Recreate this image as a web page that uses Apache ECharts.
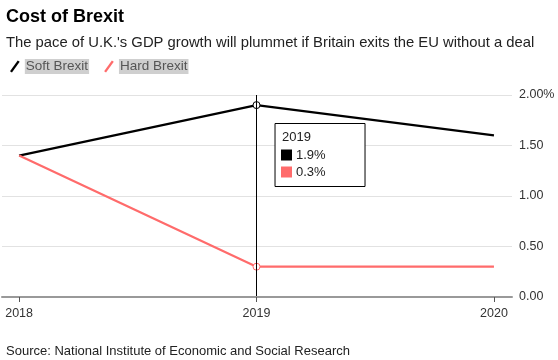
<!DOCTYPE html>
<html><head><meta charset="utf-8">
<script src="https://cdn.jsdelivr.net/npm/echarts@6/dist/echarts.min.js"></script>
<style>html,body{margin:0;padding:0;background:#fff}#c{width:558px;height:360px}</style>
</head><body><div id="c"></div>
<script>
const years = [2018, 2019, 2020];
const softBrexit = [1.4, 1.9, 1.6];
const hardBrexit = [1.4, 0.3, 0.3];
const yTicks = [0, 0.5, 1, 1.5, 2];
const highlightYear = 2019;
const FONT = '"Liberation Sans", Arial, Helvetica, sans-serif';

const chart = echarts.init(document.getElementById('c'), null, {renderer: 'canvas'});
const hi = years.indexOf(highlightYear);
function mk(arr, color) {
  return arr.map((v, i) => i === hi ?
    {value: [years[i], v], symbol: 'circle', symbolSize: 7, itemStyle: {color: '#fff', borderColor: color, borderWidth: 1}} :
    {value: [years[i], v], symbol: 'none'});
}
const slash = 'path://M0,11 L8,0 L10,1.4 L2,12.4Z';
chart.setOption({
  animation: false,
  textStyle: {fontFamily: FONT},
  title: [
    {text: 'Cost of Brexit', left: 1, top: 3, textStyle: {fontFamily: FONT, fontSize: 18, fontWeight: 'bold', color: '#000'}},
    {text: 'The pace of U.K.\'s GDP growth will plummet if Britain exits the EU without a deal', left: 1, top: 30, textStyle: {fontFamily: FONT, fontSize: 14.8, fontWeight: 'normal', color: '#222'}},
    {text: 'Source: National Institute of Economic and Social Research', left: 1, top: 340, textStyle: {fontFamily: FONT, fontSize: 13, fontWeight: 'normal', color: '#222'}}
  ],
  legend: {
    left: 5, top: 54, itemWidth: 10, itemHeight: 12, itemGap: 15,
    data: [{name: 'Soft Brexit', icon: slash, itemStyle: {color: '#000'}}, {name: 'Hard Brexit', icon: slash, itemStyle: {color: '#ff6b6b'}}],
    textStyle: {fontFamily: FONT, fontSize: 13.5, color: '#555', backgroundColor: '#cfcfcf', padding: [1, 1, 0, 1]}
  },
  grid: {left: 2, right: 46, top: 95, bottom: 63},
  xAxis: {
    type: 'value', min: 2017.928, max: 2020.076, z: 5,
    axisLine: {show: true, lineStyle: {color: '#999', width: 2}},
    axisTick: {show: true, customValues: years, length: 5, lineStyle: {color: '#555'}},
    axisLabel: {customValues: years, color: '#333', fontSize: 12.5, margin: 10, formatter: v => String(v)},
    splitLine: {show: false}
  },
  yAxis: {
    type: 'value', position: 'right', min: 0, max: 2, interval: 0.5,
    axisLine: {show: false}, axisTick: {show: false},
    axisLabel: {color: '#333', fontSize: 12.5, margin: 7, formatter: v => v === 2 ? v.toFixed(2) + '%' : v.toFixed(2)},
    splitLine: {lineStyle: {color: '#e2e2e2', width: 1}}
  },
  series: [
    {name: 'Soft Brexit', type: 'line', data: mk(softBrexit, '#000'), lineStyle: {color: '#000', width: 2.2}, itemStyle: {color: '#000'}, z: 3,
     markLine: {silent: true, symbol: 'none', label: {show: false}, lineStyle: {color: '#000', width: 1, type: 'solid'},
       data: [[{coord: [highlightYear, 0]}, {coord: [highlightYear, 2]}]]}},
    {name: 'Hard Brexit', type: 'line', data: mk(hardBrexit, '#ff6b6b'), lineStyle: {color: '#ff6b6b', width: 2.2}, itemStyle: {color: '#ff6b6b'}, z: 3}
  ]
});
// static tooltip box for highlighted year
const px = chart.convertToPixel({gridIndex: 0}, [highlightYear, 2]);
const bx = px[0] + 18, by = 123;
chart.setOption({graphic: [{
  type: 'group', left: bx, top: by, z: 100,
  children: [
    {type: 'rect', shape: {x: 0, y: 0, width: 90, height: 63}, style: {fill: '#fff', stroke: '#000', lineWidth: 1}},
    {type: 'text', x: 7, y: 7, style: {text: String(highlightYear), font: '13px ' + FONT, fill: '#222'}},
    {type: 'rect', shape: {x: 6, y: 26, width: 11, height: 11}, style: {fill: '#000'}},
    {type: 'text', x: 21, y: 25, style: {text: softBrexit[hi] + '%', font: '13px ' + FONT, fill: '#222'}},
    {type: 'rect', shape: {x: 6, y: 43, width: 11, height: 11}, style: {fill: '#ff6b6b'}},
    {type: 'text', x: 21, y: 42, style: {text: hardBrexit[hi] + '%', font: '13px ' + FONT, fill: '#222'}}
  ]
}]});
</script></body></html>
